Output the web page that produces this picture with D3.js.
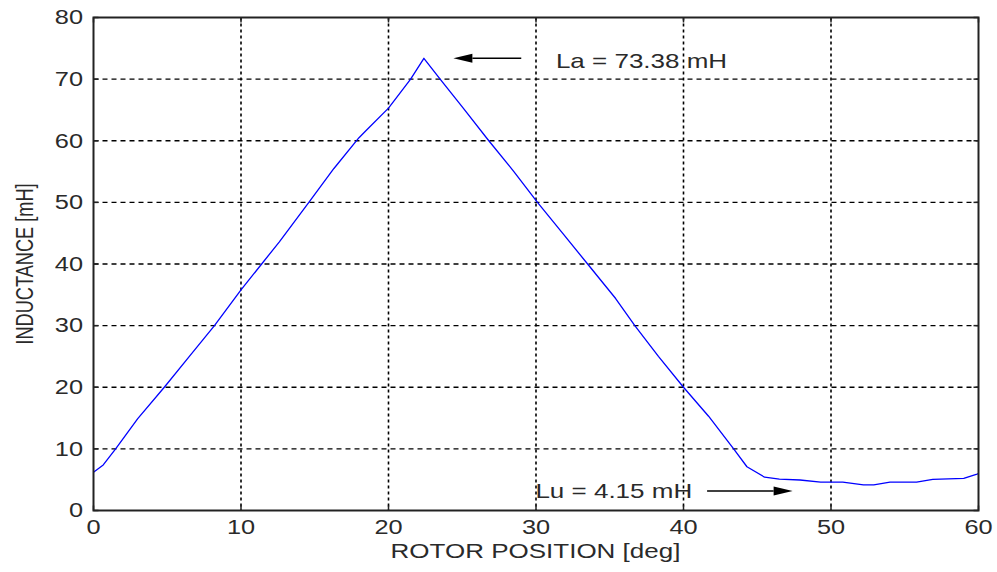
<!DOCTYPE html>
<html>
<head>
<meta charset="utf-8">
<script src="https://cdn.jsdelivr.net/npm/d3@7"></script>
<style>
  html, body { margin: 0; padding: 0; background: #fff; }
  text { font-family: "Liberation Sans", Arial, sans-serif; fill: #2a2a2a; }
</style>
</head>
<body>
<svg id="chart" width="997" height="572"></svg>
<script>
// ---- data ----
const rotorPosition = [0, 0.66, 1.5, 3, 4.8, 6.5, 8.2, 10, 11.4, 12.6, 14.6, 16.3, 18, 18.5, 20, 21.5, 22.4,
  23.5, 25, 26.8, 28.5, 30.1, 31.8, 33.5, 35.4, 36.7, 38.3, 40, 41.7, 43.4, 44.3, 45.5, 46.5, 47.9,
  49.3, 50.8, 52.2, 52.9, 54, 55.8, 56.9, 59, 59.9, 60];
const inductance = [6.2, 7.4, 10, 14.9, 20, 25, 30, 35.8, 40, 43.6, 50, 55.5, 60.5, 61.7, 65.3, 70, 73.38,
  70, 65.5, 60, 55, 50, 45, 40, 34.4, 30, 25, 20, 15.3, 10, 7.1, 5.4, 5.1, 4.95,
  4.6, 4.6, 4.15, 4.15, 4.6, 4.6, 5.05, 5.2, 5.9, 6.0];
const xTicks = [0, 10, 20, 30, 40, 50, 60];
const yTicks = [0, 10, 20, 30, 40, 50, 60, 70, 80];
const xLabel = "ROTOR POSITION [deg]";
const yLabel = "INDUCTANCE [mH]";
const annotations = [
  { text: "La = 73.38 mH", x: 31.35, y: 71.8, arrowFrom: 29.0, arrowTo: 24.4, arrowY: 73.38 },
  { text: "Lu = 4.15 mH", x: 29.96, y: 2.1, arrowFrom: 41.6, arrowTo: 47.4, arrowY: 3.15 }
];

// ---- layout ----
const svg = d3.select("#chart");
const L = 93.5, R = 978.5, T = 17.5, B = 510.5;
const SX = 1.3; // horizontal text stretch seen in reference
const x = d3.scaleLinear().domain([0, 60]).range([L, R]);
const y = d3.scaleLinear().domain([0, 80]).range([B, T]);

// grid
const g = svg.append("g");
g.selectAll(".hgrid").data(yTicks.filter(d => d > 0 && d < 80)).join("line")
  .attr("x1", L).attr("x2", R).attr("y1", d => y(d)).attr("y2", d => y(d))
  .attr("stroke", "#000").attr("stroke-width", 1.3).attr("stroke-dasharray", "5,4");
g.selectAll(".vgrid").data(xTicks.filter(d => d > 0 && d < 60)).join("line")
  .attr("x1", d => x(d)).attr("x2", d => x(d)).attr("y1", T).attr("y2", B)
  .attr("stroke", "#000").attr("stroke-width", 1.6).attr("stroke-dasharray", "3,3");

// ticks (inward, all four sides)
const tk = 5;
g.selectAll(".tb").data(xTicks).join("line")
  .attr("x1", d => x(d)).attr("x2", d => x(d)).attr("y1", B).attr("y2", B - tk)
  .attr("stroke", "#222").attr("stroke-width", 1.5);
g.selectAll(".tt").data(xTicks).join("line")
  .attr("x1", d => x(d)).attr("x2", d => x(d)).attr("y1", T).attr("y2", T + tk)
  .attr("stroke", "#222").attr("stroke-width", 1.5);
g.selectAll(".tl").data(yTicks).join("line")
  .attr("x1", L).attr("x2", L + tk).attr("y1", d => y(d)).attr("y2", d => y(d))
  .attr("stroke", "#222").attr("stroke-width", 1.5);
g.selectAll(".tr").data(yTicks).join("line")
  .attr("x1", R).attr("x2", R - tk).attr("y1", d => y(d)).attr("y2", d => y(d))
  .attr("stroke", "#222").attr("stroke-width", 1.5);

// curve
const line = d3.line().x((d, i) => x(rotorPosition[i])).y(d => y(d));
svg.append("path").datum(inductance)
  .attr("d", line).attr("fill", "none").attr("stroke", "#0000ff").attr("stroke-width", 1.3)
  .attr("stroke-linejoin", "round");

// box
svg.append("rect").attr("x", L).attr("y", T).attr("width", R - L).attr("height", B - T)
  .attr("fill", "none").attr("stroke", "#222").attr("stroke-width", 2);

// tick labels
svg.selectAll(".xl").data(xTicks).join("text")
  .attr("transform", d => `translate(${x(d)},${534}) scale(${SX},1)`)
  .attr("text-anchor", "middle").attr("font-size", 19.5).text(d => d);
svg.selectAll(".yl").data(yTicks).join("text")
  .attr("transform", d => `translate(83,${y(d) + 6.8}) scale(${SX},1)`)
  .attr("text-anchor", "end").attr("font-size", 19.5).text(d => d);

// axis labels
svg.append("text")
  .attr("transform", `translate(${(L + R) / 2 - 0.5},558) scale(${SX},1)`)
  .attr("text-anchor", "middle").attr("font-size", 20).text(xLabel);
svg.append("text")
  .attr("transform", `translate(32.5,${(T + B) / 2}) scale(${SX},1) rotate(-90)`)
  .attr("text-anchor", "middle").attr("font-size", 18.2).text(yLabel);

// annotations
const ann = svg.append("g");
annotations.forEach(a => {
  ann.append("text")
    .attr("transform", `translate(${x(a.x)},${y(a.y)}) scale(${SX},1)`)
    .attr("font-size", 20).text(a.text);
  const dir = Math.sign(a.arrowTo - a.arrowFrom);
  const tipX = x(a.arrowTo), ay = y(a.arrowY);
  const headLen = 19;
  ann.append("line")
    .attr("x1", x(a.arrowFrom)).attr("x2", tipX - dir * headLen).attr("y1", ay).attr("y2", ay)
    .attr("stroke", "#000").attr("stroke-width", 1.5);
  ann.append("path")
    .attr("d", `M${tipX},${ay} L${tipX - dir * headLen},${ay - 4.5} L${tipX - dir * headLen},${ay + 4.5} Z`)
    .attr("fill", "#000");
});
</script>
</body>
</html>
